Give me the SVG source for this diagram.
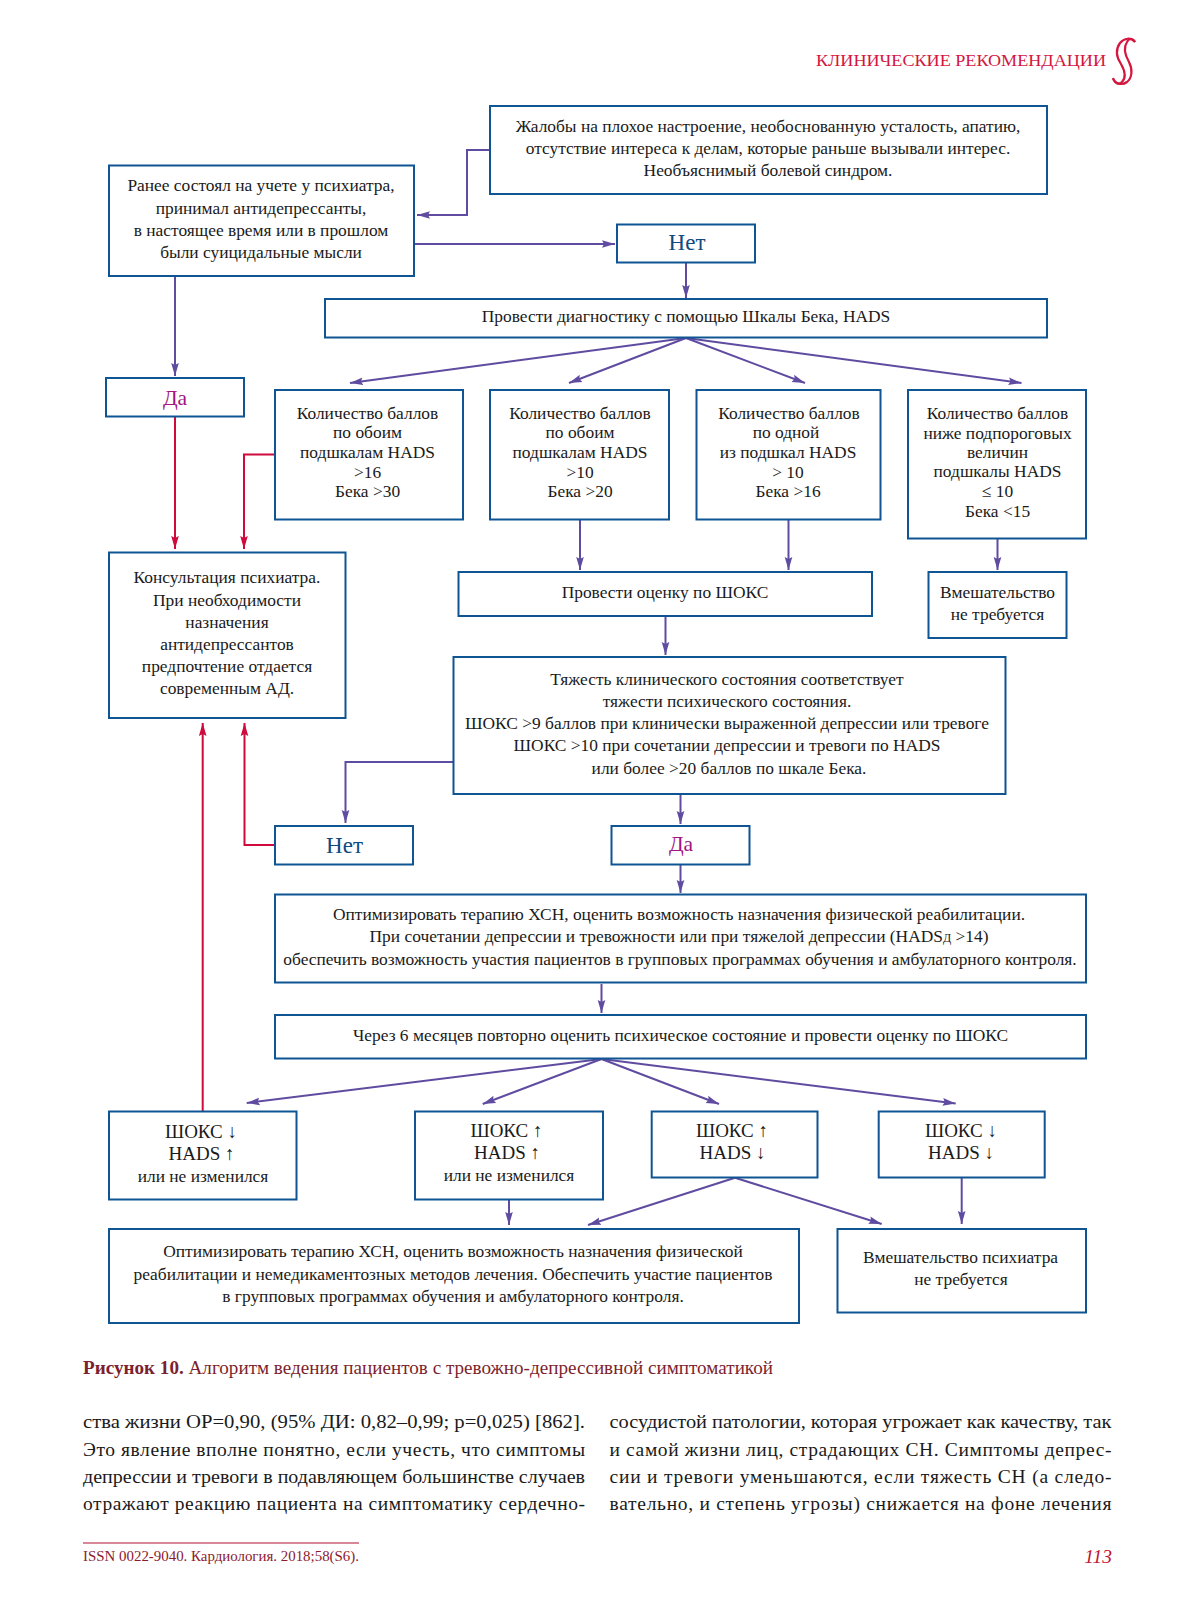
<svg xmlns="http://www.w3.org/2000/svg" width="1187" height="1600" viewBox="0 0 1187 1600">
<style>
text{font-family:"Liberation Serif","Times New Roman",serif;fill:#1a1a1a}
.t{font-size:17.4px;text-anchor:middle}
.s{font-size:19px;text-anchor:middle}
.a{font-weight:bold}
.big{font-size:23px;text-anchor:middle}
.da{font-size:21.500px;text-anchor:middle;fill:#a0157f}
.b{fill:#fff;stroke:#0f5593;stroke-width:2}
.p{fill:none;stroke:#5f4ba0;stroke-width:2;marker-end:url(#ap)}
.r{fill:none;stroke:#cf0a3c;stroke-width:2;marker-end:url(#ar)}
.body{font-size:19.5px}
</style>
<defs>
<marker id="ap" markerUnits="userSpaceOnUse" markerWidth="14" markerHeight="10" refX="13" refY="5" orient="auto"><path d="M0 1.2L13 5L0 8.8L2 5Z" fill="#5f4ba0"/></marker>
<marker id="ar" markerUnits="userSpaceOnUse" markerWidth="14" markerHeight="10" refX="13" refY="5" orient="auto"><path d="M0 1.2L13 5L0 8.8L2 5Z" fill="#cf0a3c"/></marker>
</defs>
<rect width="1187" height="1600" fill="#fff"/>
<g id="header">
<text x="816" y="66" font-size="17.5" style="fill:#d4173f" textLength="290" lengthAdjust="spacingAndGlyphs">КЛИНИЧЕСКИЕ РЕКОМЕНДАЦИИ</text>
<path d="M1135 42C1131 37 1124 38 1120 43C1115 50 1117 58 1121 64C1125 71 1126 78 1122 82C1119 85 1115 84 1113 78" fill="none" stroke="#d4173f" stroke-width="2.200"/>
<path d="M1135 42C1133 38 1129 38 1127 42C1123 48 1125 55 1129 62C1133 70 1132 78 1127 82C1123 85 1117 85 1113 79" fill="none" stroke="#d4173f" stroke-width="2.200"/>
</g>
<g id="connectors">
<path class="p" d="M490 150H467V215H417"/>
<path class="p" d="M414 244H615"/>
<path class="p" d="M686 263V298"/>
<path class="p" d="M686 338L350 383"/>
<path class="p" d="M686 338L569 383"/>
<path class="p" d="M686 338L805 383"/>
<path class="p" d="M686 338L1021.500 383"/>
<path class="p" d="M175 276V376"/>
<path class="r" d="M175 417V549"/>
<path class="r" d="M275 454.500H244V549"/>
<path class="p" d="M580 520V570"/>
<path class="p" d="M788.500 520V570"/>
<path class="p" d="M997.500 539V570"/>
<path class="p" d="M665.500 617V655"/>
<path class="p" d="M453.500 762H345.500V823"/>
<path class="p" d="M680.500 795V824"/>
<path class="r" d="M275 845H244.500V723"/>
<path class="p" d="M680.500 865V893"/>
<path class="p" d="M601.500 984V1013"/>
<path class="p" d="M601.500 1059L246.700 1103"/>
<path class="p" d="M601.500 1059L482.700 1104"/>
<path class="p" d="M601.500 1059L719 1104"/>
<path class="p" d="M601.500 1059L955.700 1103.500"/>
<path class="r" d="M202.700 1111V723"/>
<path class="p" d="M509 1200V1225"/>
<path class="p" d="M735 1177.700L588 1225"/>
<path class="p" d="M735 1177.700L881.700 1224"/>
<path class="p" d="M961.700 1177.700V1224"/>
</g>
<g id="n-complaints"><rect class="b" x="490" y="106" width="557" height="88"/>
<text class="t" x="768" y="131.700">Жалобы на плохое настроение, необоснованную усталость, апатию,</text>
<text class="t" x="768" y="153.500">отсутствие интереса к делам, которые раньше вызывали интерес.</text>
<text class="t" x="768" y="175.500">Необъяснимый болевой синдром.</text></g>
<g id="n-history"><rect class="b" x="109" y="165.500" width="305" height="110.500"/>
<text class="t" x="261" y="191">Ранее состоял на учете у психиатра,</text>
<text class="t" x="261" y="213.500">принимал антидепрессанты,</text>
<text class="t" x="261" y="236">в настоящее время или в прошлом</text>
<text class="t" x="261" y="258">были суицидальные мысли</text></g>
<g id="n-net1"><rect class="b" x="617" y="224.500" width="138" height="38"/>
<text class="big" x="687" y="250" style="fill:#0f4a80">Нет</text></g>
<g id="n-diag"><rect class="b" x="325" y="299" width="722" height="38.500"/>
<text class="t" x="686" y="322">Провести диагностику с помощью Шкалы Бека, HADS</text></g>
<g id="n-da1"><rect class="b" x="106" y="378" width="138" height="38.500"/>
<text class="da" x="175" y="405">Да</text></g>
<g id="n-s1"><rect class="b" x="275" y="390" width="188" height="129.500"/>
<text class="t" x="367.500" y="419">Количество баллов</text>
<text class="t" x="367.500" y="438">по обоим</text>
<text class="t" x="367.500" y="458">подшкалам HADS</text>
<text class="t" x="367.500" y="478">&gt;16</text>
<text class="t" x="367.500" y="497">Бека &gt;30</text></g>
<g id="n-s2"><rect class="b" x="490" y="390" width="179" height="129.500"/>
<text class="t" x="580" y="419">Количество баллов</text>
<text class="t" x="580" y="438">по обоим</text>
<text class="t" x="580" y="458">подшкалам HADS</text>
<text class="t" x="580" y="478">&gt;10</text>
<text class="t" x="580" y="497">Бека &gt;20</text></g>
<g id="n-s3"><rect class="b" x="696.500" y="390" width="184" height="129.500"/>
<text class="t" x="789" y="419">Количество баллов</text>
<text class="t" x="786" y="438">по одной</text>
<text class="t" x="788" y="458">из подшкал HADS</text>
<text class="t" x="788" y="478">&gt; 10</text>
<text class="t" x="788" y="497">Бека &gt;16</text></g>
<g id="n-s4"><rect class="b" x="908" y="390" width="178" height="148.500"/>
<text class="t" x="997.500" y="419">Количество баллов</text>
<text class="t" x="997.500" y="439">ниже подпороговых</text>
<text class="t" x="997.500" y="457.500">величин</text>
<text class="t" x="997.500" y="477">подшкалы HADS</text>
<text class="t" x="997.500" y="496.500">≤ 10</text>
<text class="t" x="997.500" y="517">Бека &lt;15</text></g>
<g id="n-consult"><rect class="b" x="109" y="552.500" width="236.500" height="165.500"/>
<text class="t" x="227" y="583">Консультация психиатра.</text>
<text class="t" x="227" y="605.500">При необходимости</text>
<text class="t" x="227" y="628">назначения</text>
<text class="t" x="227" y="649.500">антидепрессантов</text>
<text class="t" x="227" y="671.500">предпочтение отдается</text>
<text class="t" x="227" y="693.500">современным АД.</text></g>
<g id="n-shocks"><rect class="b" x="458.500" y="572" width="413.500" height="44"/>
<text class="t" x="665" y="597.500">Провести оценку по ШОКС</text></g>
<g id="n-noint"><rect class="b" x="928.500" y="572" width="138" height="66"/>
<text class="t" x="997.500" y="597.500">Вмешательство</text>
<text class="t" x="997.500" y="620">не требуется</text></g>
<g id="n-severity"><rect class="b" x="453.500" y="657" width="552" height="137"/>
<text class="t" x="727" y="685">Тяжесть клинического состояния соответствует</text>
<text class="t" x="727" y="707">тяжести психического состояния.</text>
<text class="t" x="727" y="728.500">ШОКС &gt;9 баллов при клинически выраженной депрессии или тревоге</text>
<text class="t" x="727" y="751">ШОКС &gt;10 при сочетании депрессии и тревоги по HADS</text>
<text class="t" x="729" y="773.500">или более &gt;20 баллов по шкале Бека.</text></g>
<g id="n-net2"><rect class="b" x="275" y="826" width="138" height="38.500"/>
<text class="big" x="344.500" y="853" style="fill:#0f4a80">Нет</text></g>
<g id="n-da2"><rect class="b" x="611.500" y="826" width="138" height="38.500"/>
<text class="da" x="681" y="851">Да</text></g>
<g id="n-opt"><rect class="b" x="275" y="894.500" width="811" height="88"/>
<text class="t" x="679" y="920">Оптимизировать терапию ХСН, оценить возможность назначения физической реабилитации.</text>
<text class="t" x="679" y="942">При сочетании депрессии и тревожности или при тяжелой депрессии (HADS<tspan font-size="12">Д</tspan> &gt;14)</text>
<text class="t" x="680" y="965">обеспечить возможность участия пациентов в групповых программах обучения и амбулаторного контроля.</text></g>
<g id="n-re"><rect class="b" x="275" y="1015" width="811" height="43.500"/>
<text class="t" x="680.500" y="1041">Через 6 месяцев повторно оценить психическое состояние и провести оценку по ШОКС</text></g>
<g id="n-r1"><rect class="b" x="109" y="1111.500" width="187.500" height="88"/>
<text class="s" x="201" y="1138">ШОКС <tspan class="a">↓</tspan></text>
<text class="s" x="201.500" y="1160">HADS <tspan class="a">↑</tspan></text>
<text class="t" x="203" y="1181.500">или не изменился</text></g>
<g id="n-r2"><rect class="b" x="415" y="1111.500" width="188" height="88"/>
<text class="s" x="506.500" y="1137">ШОКС <tspan class="a">↑</tspan></text>
<text class="s" x="507" y="1159">HADS <tspan class="a">↑</tspan></text>
<text class="t" x="509" y="1181">или не изменился</text></g>
<g id="n-r3"><rect class="b" x="651.700" y="1111.500" width="165.800" height="66"/>
<text class="s" x="732" y="1137">ШОКС <tspan class="a">↑</tspan></text>
<text class="s" x="732.500" y="1159">HADS <tspan class="a">↓</tspan></text></g>
<g id="n-r4"><rect class="b" x="878.700" y="1111.500" width="166" height="66"/>
<text class="s" x="961" y="1137">ШОКС <tspan class="a">↓</tspan></text>
<text class="s" x="961" y="1159">HADS <tspan class="a">↓</tspan></text></g>
<g id="n-opt2"><rect class="b" x="109" y="1229" width="690" height="94"/>
<text class="t" x="453" y="1257">Оптимизировать терапию ХСН, оценить возможность назначения физической</text>
<text class="t" x="453" y="1280">реабилитации и немедикаментозных методов лечения. Обеспечить участие пациентов</text>
<text class="t" x="453" y="1302">в групповых программах обучения и амбулаторного контроля.</text></g>
<g id="n-noint2"><rect class="b" x="837.500" y="1229" width="248.500" height="83.500"/>
<text class="t" x="960.500" y="1263">Вмешательство психиатра</text>
<text class="t" x="961" y="1285">не требуется</text></g>
<g id="page">
<text x="83" y="1374" font-size="18" style="fill:#7c1f2e" textLength="690" lengthAdjust="spacingAndGlyphs"><tspan font-weight="bold">Рисунок 10.</tspan> Алгоритм ведения пациентов с тревожно-депрессивной симптоматикой</text>
<text class="body" x="83" y="1428" textLength="502" lengthAdjust="spacingAndGlyphs">ства жизни ОР=0,90, (95% ДИ: 0,82–0,99; p=0,025) [862].</text>
<text class="body" x="83" y="1456" textLength="502" lengthAdjust="spacing">Это явление вполне понятно, если учесть, что симптомы</text>
<text class="body" x="83" y="1483" textLength="502" lengthAdjust="spacingAndGlyphs">депрессии и тревоги в подавляющем большинстве случаев</text>
<text class="body" x="83" y="1510" textLength="502" lengthAdjust="spacing">отражают реакцию пациента на симптоматику сердечно-</text>
<text class="body" x="609.500" y="1428" textLength="502" lengthAdjust="spacingAndGlyphs">сосудистой патологии, которая угрожает как качеству, так</text>
<text class="body" x="609.500" y="1456" textLength="502" lengthAdjust="spacing">и самой жизни лиц, страдающих СН. Симптомы депрес-</text>
<text class="body" x="609.500" y="1483" textLength="502" lengthAdjust="spacing">сии и тревоги уменьшаются, если тяжесть СН (а следо-</text>
<text class="body" x="609.500" y="1510" textLength="502" lengthAdjust="spacing">вательно, и степень угрозы) снижается на фоне лечения</text>
<path d="M83 1543H359" stroke="#b01030" stroke-width="1.200"/>
<text x="83" y="1561" font-size="14.500" style="fill:#8c1a30" textLength="276" lengthAdjust="spacingAndGlyphs">ISSN 0022-9040. Кардиология. 2018;58(S6).</text>
<text x="1112" y="1563" font-size="19.500" font-style="italic" text-anchor="end" style="fill:#c01535">113</text>
</g>
</svg>
